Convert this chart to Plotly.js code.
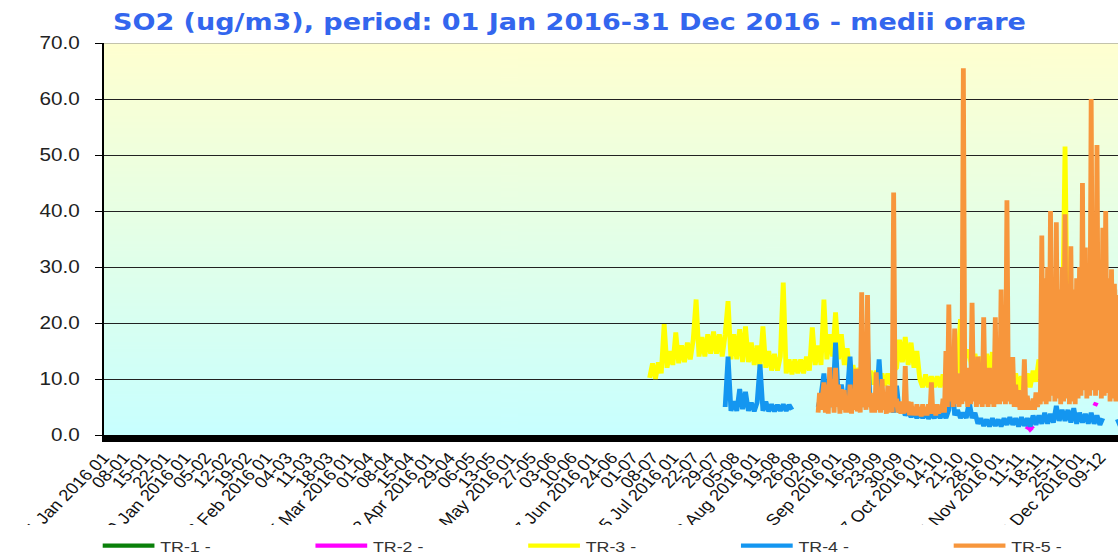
<!DOCTYPE html>
<html>
<head>
<meta charset="utf-8">
<script src="https://cdn.plot.ly/plotly-3.0.1.min.js"></script>
<style>
html,body{margin:0;padding:0;overflow:hidden;background:#fff;}
#wrap{width:1118px;height:554px;overflow:hidden;position:relative;background:#fff;}
#chart{position:absolute;left:0;top:0;transform-origin:0 0;}
</style>
</head>
<body>
<div id="wrap"><div id="chart"></div></div>
<script>
// ---------------- DATA ----------------
const seriesNames  = ['TR-1 -', 'TR-2 -', 'TR-3 -', 'TR-4 -', 'TR-5 -'];
const seriesColors = ['#0A800A', '#FF00FF', '#FFFF00', '#1496F0', '#F7963C'];

// TR-1: no valid readings in the period
const tr1Dates  = ['2016-01-01', '2016-12-31'];
const tr1Values = [null, null];

// TR-2: only a few short fragments
const tr2Dates  = ['2016-11-13 19:00','2016-11-14 10:00','2016-11-15 00:00','2016-11-15 14:00','2016-11-16 00:00',
                   '2016-11-16 12:00','2016-11-17 05:00','2016-11-17 12:00','2016-11-30 00:00',
                   '2016-12-07 05:00','2016-12-07 19:00'];
const tr2Values = [1.0, 1.4, 1.0, 1.3, 1.1, null, 10.2, 11.0, null, 5.2, 5.8];

// TR-3: one reading per day from 07 Jul 2016
const tr3Start  = '2016-07-07';
const tr3Values = [
 10.2,12.8,10.0,13.0,11.0,19.8,12.0,15.0,12.5,18.3,
 12.8,16.0,13.0,16.5,13.5,17.0,24.2,14.0,17.5,14.0,
 18.0,14.5,18.5,14.5,18.0,14.0,18.0,23.9,13.5,18.0,
 13.5,18.9,13.0,19.4,13.0,16.5,12.5,16.0,12.0,19.4,
 12.0,15.0,11.5,14.5,11.5,14.0,27.2,11.0,13.5,10.8,
 13.5,11.0,13.5,11.0,14.0,11.5,19.2,12.5,16.0,12.5,
 24.2,13.5,18.0,14.0,21.9,13.5,18.0,12.5,15.5,10.5,
 12.5, 9.5,12.0, 9.0,11.5, 9.0,11.5, 9.0,11.5, 9.0,
 11.0, 8.8,11.0, 9.0,11.5,12.0,17.0,13.0,17.5,12.5,
 16.5,12.0,15.0,10.0, 8.5,10.8, 8.5,10.5, 8.5,10.5,
  8.5,10.8, 8.8,12.0,12.5,14.0,11.0,20.7,11.5,15.0,
 15.0,11.5,14.5,11.0,14.0,11.0,14.5,11.0,14.8,10.5,
 13.5,10.0,12.5, 9.0,11.5, 8.5,11.0, 8.0,10.5, 8.0,
 11.0, 8.5,11.5, 9.5,13.5,10.5,13.5,10.0,13.0,10.5,
 13.5,10.0,14.0,51.5,10.5,12.5,14.0,11.0,13.5,10.0,
 12.5, 9.5,13.0,10.0,12.5, 9.5,12.5,10.0,13.0, 9.5,
 12.5,10.0,12.0,10.0,12.5
];

// TR-4: one reading per day from 02 Aug 2016 (null = missing)
const tr4Start  = '2016-08-02';
const tr4Values = [
  5.0,14.0, 4.3, 6.0, 4.3, 8.2, 4.6, 7.7, 4.3, 5.8,
  4.2, 5.8,12.6, 4.3, 6.0, 4.2, 5.5, 4.2, 5.4, 4.3,
  5.5, 4.3, 5.4, 4.5,null,null,null,null,null,null,
 null,null, 5.0, 7.0,11.0, 5.5, 7.0, 5.0,16.5, 6.0,
  9.0, 5.5, 7.0,14.0, 5.5, 7.5, 5.0, 8.0, 5.0,15.5,
  5.0, 7.0, 5.0,13.5, 5.5, 7.0, 4.5, 6.0, 4.0, 8.8,
  4.0, 5.0, 3.5, 4.2, 3.2, 4.0, 3.0, 4.0, 3.0, 4.0,
  2.9, 3.8, 3.0, 4.0, 3.0, 4.2, 3.0, 4.5,11.0, 3.5,
  4.5, 3.0, 4.0, 3.0, 6.0, 3.0, 4.0, 2.0, 3.0, 1.6,
  2.8, 1.5, 3.0, 1.6, 2.8, 1.5, 3.0, 1.8, 3.2, 1.8,
  3.0, 1.5, 3.2, 1.6, 3.0, 1.5, 3.5, 1.8, 3.5, 2.0,
  4.0, 2.0, 3.8, 2.2, 5.2, 2.5, 4.5, 2.5, 4.5, 2.2,
  4.8, 2.0, 4.0, 2.2, 3.8, 2.0, 4.0, 2.0, 3.5, 1.8,
  3.0,null,null,null,null, 2.8, 1.6, 2.5
];

// TR-5: two readings per day (00h, 12h) from 03 Sep 2016
const tr5Start  = '2016-09-03';
const tr5Values = [
  4.0, 7.5,  4.5, 8.0,  9.4, 4.0,  9.0, 3.8, 12.1, 5.0, 10.0, 4.0, 12.0, 5.0,  9.0, 3.8,
  8.2, 4.5,  8.0, 4.0,  7.0, 4.0,  9.0, 3.8,  7.7, 4.5, 11.8, 4.2,  7.0, 4.0, 25.5, 5.0,
  8.0, 4.5, 25.0, 5.0,  7.5, 4.0,  6.5, 4.0, 11.2, 4.5,  7.0, 4.0, 10.0, 4.5,  6.5, 3.8,
  8.8, 4.0,  6.0, 4.0, 43.3, 5.0,  6.5, 4.0,  6.0, 3.8,  5.5, 3.8, 12.3, 4.0,  6.0, 3.5,
  5.9, 3.5,  5.0, 3.5,  5.5, 3.5,  5.0, 3.3,  5.5, 3.5,  5.0, 3.5,  5.5, 3.8,  9.4, 3.8,
  5.5, 3.5,  5.5, 3.8,  5.0, 4.0,  6.5, 4.0, 15.0, 5.0, 23.3, 6.0, 10.0, 5.0, 19.0, 5.5,
 11.0, 5.0, 10.0, 5.5, 65.5, 6.0, 11.0, 5.0, 12.0, 5.5, 23.6, 6.0, 10.5, 5.0, 14.0, 5.5,
 11.0, 5.0, 21.0, 5.5, 12.0, 5.0, 12.0, 5.5, 11.0, 5.0, 21.0, 5.5, 10.0, 5.5, 26.0, 6.0,
 12.0, 5.5, 41.9, 6.0, 11.0, 5.5, 13.9, 5.0,  9.0, 5.0,  8.0, 4.5,  7.0, 4.5, 13.5, 4.5,
  7.0, 4.5,  6.0, 4.5,  6.5, 4.5,  7.6, 5.0,  6.5, 5.5, 35.6, 6.0, 28.0, 5.5, 30.0, 6.0,
 40.0, 7.0, 27.0, 6.0, 38.0, 6.5, 26.0, 5.5, 30.0, 6.0, 39.4, 6.5, 27.0, 5.5, 33.7, 6.0,
 26.0, 5.5, 28.0, 6.5, 30.0, 7.0, 45.0, 8.0, 33.5, 6.5, 28.0, 7.0, 60.0, 8.0, 35.5, 7.0,
 51.8, 8.0, 30.0, 6.5, 37.0, 7.0, 40.0, 7.5, 28.0, 6.0, 29.6, 6.5, 27.0, 6.0, 25.0, 6.5,
 26.0, 6.0, 25.0, 6.0
];

// x-axis tick labels (a major label every 28 days, short labels between)
const majorTickDates  = ['2016-01-01','2016-01-29','2016-02-26','2016-03-25','2016-04-22','2016-05-20','2016-06-17',
                         '2016-07-15','2016-08-12','2016-09-09','2016-10-07','2016-11-04','2016-12-02'];
const majorTickLabels = ['01 Jan 2016 01','29 Jan 2016 01','26 Feb 2016 01','25 Mar 2016 01','22 Apr 2016 01',
                         '20 May 2016 01','17 Jun 2016 01','15 Jul 2016 01','12 Aug 2016 01','09 Sep 2016 01',
                         '07 Oct 2016 01','04 Nov 2016 01','02 Dec 2016 01'];
const minorTickOffsetDays = [7, 14, 21];
const lastTickDate = '2016-12-09';

// ---------------- geometry ----------------
const SX = 1.15;                 // horizontal stretch of the reference picture
const W = 1026, H = 554;         // plotly size before stretch
const plotTop = 43, plotBottom = 435;
const labelCut = 525;            // tick labels are cut below this line in the reference

// ---------------- helpers ----------------
const HOUR = 3600000, DAY = 24 * HOUR;
function regularDates(start, n, stepHours) {
  const t0 = Date.parse(start + 'T00:00:00Z');
  const out = [];
  for (let i = 0; i < n; i++) out.push(new Date(t0 + i * stepHours * HOUR).toISOString().slice(0, 16).replace('T', ' '));
  return out;
}
function pad(n) { return (n < 10 ? '0' : '') + n; }

const tickvals = [], ticktext = [];
const tLast = Date.parse(lastTickDate + 'T00:00:00Z');
majorTickDates.forEach((d, i) => {
  tickvals.push(d); ticktext.push(majorTickLabels[i]);
  const t0 = Date.parse(d + 'T00:00:00Z');
  minorTickOffsetDays.forEach(off => {
    const t = t0 + off * DAY;
    if (t > tLast) return;
    const dt = new Date(t);
    tickvals.push(dt.toISOString().slice(0, 10));
    ticktext.push(pad(dt.getUTCDate()) + '-' + pad(dt.getUTCMonth() + 1));
  });
});

function gradientURL() {
  const c = document.createElement('canvas');
  c.width = 4; c.height = 256;
  const g = c.getContext('2d');
  const gr = g.createLinearGradient(0, 0, 0, 256);
  gr.addColorStop(0, '#FFFFD0');
  gr.addColorStop(1, '#C8FFFF');
  g.fillStyle = gr; g.fillRect(0, 0, 4, 256);
  return c.toDataURL();
}

const xs = [tr1Dates, tr2Dates,
            regularDates(tr3Start, tr3Values.length, 24),
            regularDates(tr4Start, tr4Values.length, 24),
            regularDates(tr5Start, tr5Values.length, 12)];
const ys = [tr1Values, tr2Values, tr3Values, tr4Values, tr5Values];

const data = seriesNames.map((name, i) => ({
  type: 'scatter', mode: 'lines', name: name,
  x: xs[i], y: ys[i],
  connectgaps: false,
  line: {color: seriesColors[i], width: 4.2},
  hoverinfo: 'skip'
}));

const layout = {
  width: W, height: H,
  margin: {l: 90, r: 14, t: plotTop, b: H - plotBottom, pad: 0},
  paper_bgcolor: '#ffffff',
  plot_bgcolor: 'rgba(0,0,0,0)',
  title: {
    text: 'SO2 (ug/m3), period: 01 Jan 2016-31 Dec 2016 - medii orare',
    font: {family: 'DejaVu Sans, Verdana, sans-serif', size: 23.5, color: '#3366EE', weight: 'bold'},
    xref: 'container', x: (113 / SX) / W, xanchor: 'left',
    yref: 'container', y: 1 - 22 / H, yanchor: 'middle'
  },
  xaxis: {
    type: 'date', range: ['2016-01-01', '2016-12-31'],
    showgrid: false, zeroline: false,
    showline: true, linecolor: '#000', linewidth: 7,
    ticks: '', tickmode: 'array', tickvals: tickvals, ticktext: ticktext,
    tickangle: -49,
    tickfont: {family: 'Liberation Sans, Arial, sans-serif', size: 16, color: '#111'},
    fixedrange: true
  },
  yaxis: {
    range: [0, 70], tick0: 0, dtick: 10, tickformat: '.1f',
    showgrid: true, gridcolor: '#222', gridwidth: 1,
    zeroline: false, showline: true, linecolor: '#000', linewidth: 1,
    ticks: 'outside', ticklen: 6, tickcolor: '#000', tickwidth: 1,
    tickfont: {family: 'Liberation Sans, Arial, sans-serif', size: 18, color: '#222'},
    ticklabelstandoff: 10,
    fixedrange: true
  },
  showlegend: true,
  legend: {
    orientation: 'h', traceorder: 'normal',
    xref: 'container', yref: 'container',
    x: (105 / SX - 7) / W, xanchor: 'left', y: 1 - 546 / H, yanchor: 'middle',
    font: {family: 'Liberation Sans, Arial, sans-serif', size: 15.5, color: '#333'},
    itemwidth: 45, entrywidth: 125, entrywidthmode: 'pixels',
    bgcolor: 'rgba(0,0,0,0)'
  },
  images: [{
    source: gradientURL(), xref: 'paper', yref: 'paper',
    x: 0, y: 1, sizex: 1, sizey: 1, xanchor: 'left', yanchor: 'top',
    sizing: 'stretch', layer: 'below'
  }],
  shapes: [
    {type: 'line', xref: 'paper', yref: 'y', x0: 0, x1: 1, y0: 70, y1: 70,
     line: {color: '#888', width: 1}, layer: 'below'},
    {type: 'rect', xref: 'paper', yref: 'paper', x0: -0.2, x1: 1.2,
     y0: -0.7, y1: -(labelCut - plotBottom) / (plotBottom - plotTop),
     fillcolor: '#ffffff', line: {width: 0}, layer: 'above'}
  ],
  hovermode: false
};

const chartDiv = document.getElementById('chart');
chartDiv.style.width = W + 'px';
chartDiv.style.height = H + 'px';
chartDiv.style.transform = 'scaleX(' + SX + ')';
Plotly.newPlot(chartDiv, data, layout, {staticPlot: true, displayModeBar: false});
</script>
</body>
</html>
